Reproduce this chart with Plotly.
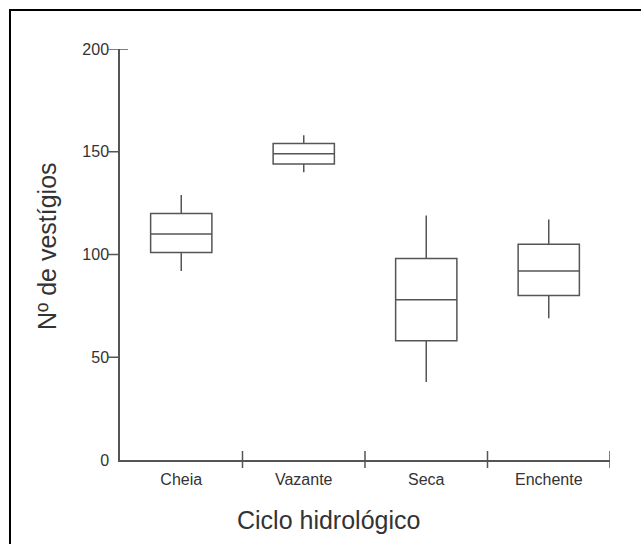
import plotly.graph_objects as go

# Hydrological cycle phases and box statistics (number of traces)
phases = ["Cheia", "Vazante", "Seca", "Enchente"]
whisker_low = [92, 140, 38, 69]
quartile_1 = [101, 144, 58, 80]
medians = [110, 149, 78, 92]
quartile_3 = [120, 154, 98, 105]
whisker_high = [129, 158, 119, 117]

y_ticks = [0, 50, 100, 150, 200]
x_boundaries = [0.5, 1.5, 2.5, 3.5]

axis_color = "#555555"
text_color = "#333333"
font_family = "Liberation Sans, Arial, sans-serif"

fig = go.Figure()
fig.add_trace(go.Box(
    x=phases,
    lowerfence=whisker_low,
    q1=quartile_1,
    median=medians,
    q3=quartile_3,
    upperfence=whisker_high,
    fillcolor="white",
    line=dict(color=axis_color, width=1.5),
    whiskerwidth=0,
    width=0.5,
    boxpoints=False,
    hoverinfo="skip",
    showlegend=False,
))

shapes = []
# x-axis tick marks crossing the axis at category boundaries
for b in x_boundaries:
    shapes.append(dict(
        type="line", xref="x", yref="paper", x0=b, x1=b,
        ysizemode="pixel", yanchor=0, y0=-8, y1=9,
        line=dict(color=axis_color, width=1.5),
    ))
# y-axis tick marks (top one crosses the axis)
for v in y_ticks[1:]:
    right = 8 if v == y_ticks[-1] else 0
    shapes.append(dict(
        type="line", xref="paper", yref="y", y0=v, y1=v,
        xsizemode="pixel", xanchor=0, x0=-12, x1=right,
        line=dict(color=axis_color, width=1.5),
    ))
# frame around the figure
shapes.append(dict(
    type="rect", xref="paper", yref="paper",
    x0=-0.2245, x1=1.3, y0=-0.4, y1=1.0949,
    line=dict(color="black", width=2), fillcolor="rgba(0,0,0,0)",
    layer="below",
))

fig.update_layout(
    width=641, height=544,
    margin=dict(l=120, r=31, t=49, b=84),
    paper_bgcolor="white", plot_bgcolor="white",
    font=dict(family=font_family, color=text_color, size=16),
    shapes=shapes,
    xaxis=dict(
        type="category", range=[-0.5, 3.5],
        showline=True, linecolor=axis_color, linewidth=1.5,
        showgrid=False, zeroline=False,
        ticks="outside", ticklen=4, tickcolor="rgba(0,0,0,0)",
        tickfont=dict(size=16, color=text_color),
        fixedrange=True,
    ),
    yaxis=dict(
        range=[0, 200], tickvals=y_ticks,
        showline=True, linecolor=axis_color, linewidth=1.5,
        showgrid=False, zeroline=False,
        ticks="outside", ticklen=6, tickcolor="rgba(0,0,0,0)",
        tickfont=dict(size=16, color=text_color),
        fixedrange=True,
    ),
    annotations=[
        dict(text="Ciclo hidrológico", xref="paper", yref="paper",
             x=0.4265, y=-0.146, xanchor="center", yanchor="middle",
             showarrow=False, font=dict(size=25, color=text_color)),
        dict(text="Nº de vestígios", xref="paper", yref="paper",
             x=-0.149, y=0.5207, xanchor="center", yanchor="middle",
             textangle=-90, showarrow=False,
             font=dict(size=25, color=text_color)),
    ],
)

fig.write_html("out.html")
